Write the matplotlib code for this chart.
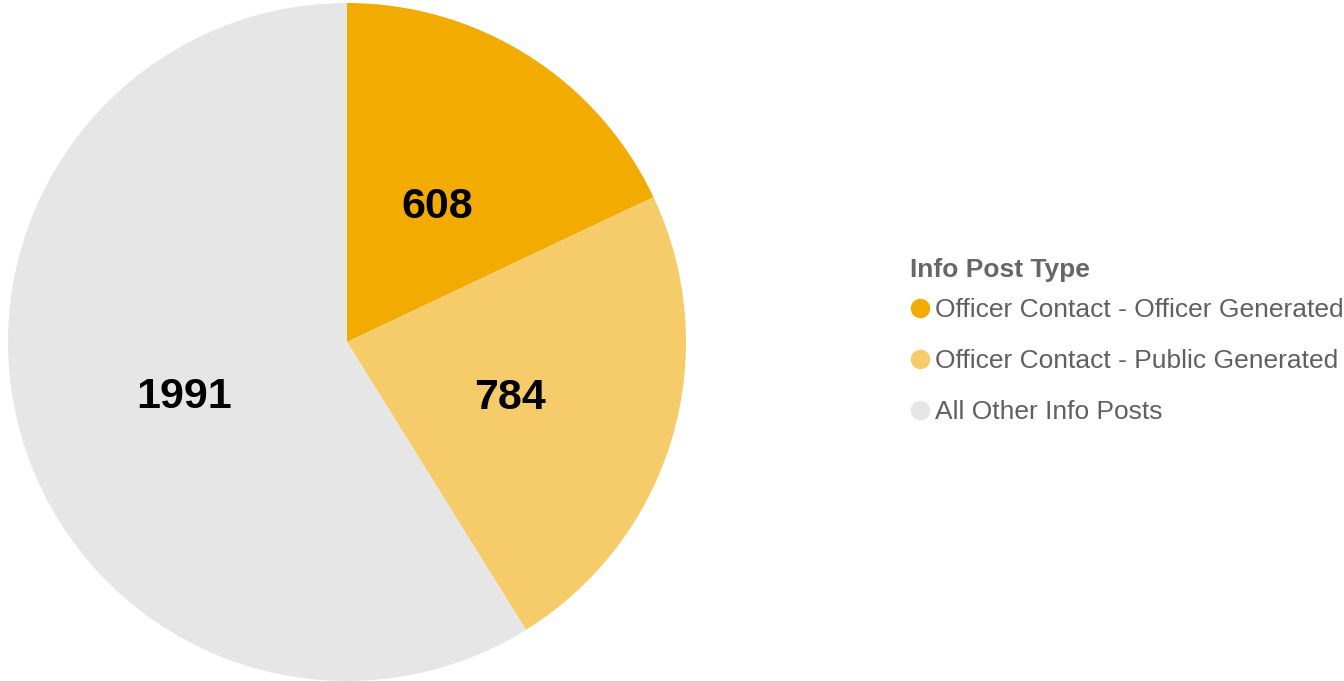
import matplotlib.pyplot as plt
from matplotlib.lines import Line2D

plt.rcParams['font.family'] = ['Liberation Sans', 'DejaVu Sans']

# Data
categories = ['Officer Contact - Officer Generated',
              'Officer Contact - Public Generated',
              'All Other Info Posts']
counts = [608, 784, 1991]
colors = ['#F2AB00', '#F6CB69', '#E6E6E6']
total = sum(counts)

fig = plt.figure(figsize=(13.44, 6.81), dpi=100)
ax = fig.add_axes([8 / 1344, 0 / 681, 678 / 1344, 678 / 681])

wedges, _, autotexts = ax.pie(
    counts, colors=colors, startangle=90, counterclock=False, radius=1,
    autopct=lambda p: f"{round(p * total / 100)}", pctdistance=0.5,
    textprops=dict(fontsize=31, fontweight='bold', color='black'))
# nudge labels down a little like the original
for t in autotexts:
    x, y = t.get_position()
    t.set_position((x, y - 0.025))
ax.set_xlim(-1, 1)
ax.set_ylim(-1, 1)
ax.set_aspect('equal')

fig.text(910 / 1344, 1 - 277 / 681, 'Info Post Type', fontsize=19,
         fontweight='bold', color='#666666', ha='left', va='baseline')

handles = [Line2D([0], [0], marker='o', linestyle='none', markersize=13,
                  markerfacecolor=c, markeredgecolor=c) for c in colors]
leg = fig.legend(handles, categories, loc='upper left',
                 bbox_to_anchor=(911 / 1344, 1 - 298 / 681),
                 frameon=False, fontsize=19,
                 handlelength=0.7, handletextpad=0.2,
                 labelspacing=1.02, borderpad=0, borderaxespad=0)
for t in leg.get_texts():
    t.set_color('#606060')

fig.savefig('out.png', dpi=100)
